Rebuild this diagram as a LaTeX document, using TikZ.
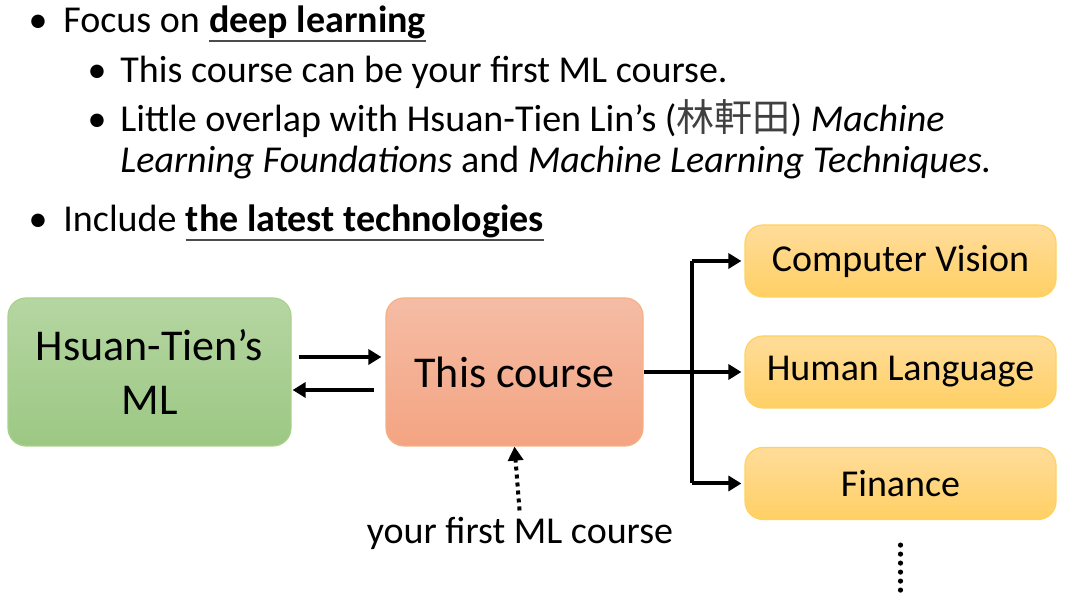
\documentclass[tikz,border=0pt]{standalone}
\usepackage{fontspec}
\setmainfont{Carlito}
\newfontfamily\cjk{Noto Sans CJK TC}
\usetikzlibrary{arrows.meta,positioning}

\definecolor{grtop}{HTML}{B5D6A2}
\definecolor{grbot}{HTML}{9CC883}
\definecolor{grline}{HTML}{A9D18E}
\definecolor{ortop}{HTML}{F5BCA5}
\definecolor{orbot}{HTML}{F4A482}
\definecolor{orline}{HTML}{F4B183}
\definecolor{yetop}{HTML}{FFDC9A}
\definecolor{yebot}{HTML}{FFD064}
\definecolor{yeline}{HTML}{FFD25E}

\begin{document}
\begin{tikzpicture}[x=0.5pt, y=-0.5pt,
  txt/.style={anchor=base west, inner sep=0pt, font=\fontsize{19}{23}\selectfont},
  bul/.style={anchor=base, inner sep=0pt, font=\fontsize{19}{23}\selectfont},
  ul/.style={black!70, line width=1pt},
  box/.style={rounded corners=9pt, inner sep=0pt, align=center, line width=0.6pt},
  big/.style={box, minimum height=74pt, font=\fontsize{22}{27}\selectfont},
  app/.style={box, minimum width=155.5pt, minimum height=36pt, draw=yeline,
    top color=yetop, bottom color=yebot, font=\fontsize{19}{23}\selectfont},
  arr/.style={line width=2pt, -{Triangle[length=6.5pt,width=7.5pt]}},
  dotarr/.style={line width=2pt, dash pattern=on 2pt off 2pt,
    -{Triangle[length=7pt,width=7.5pt]}}
]
\useasboundingbox (0,0) rectangle (1080,613);

% bullet list
\node[bul] (b1) at (38,33) {•};
\node[txt] (focus) at (63,33) {Focus on};
\node[txt, font=\fontsize{19}{23}\selectfont\bfseries] (deep) at ([xshift=4.3pt]focus.base east) {deep learning};
\draw[ul] ([yshift=-0.5pt]deep.south west) -- ([yshift=-0.5pt]deep.south east);

\node[bul] (b2) at (97,83) {•};
\node[txt] (sub1) at (120,83) {This course can be your first ML course.};
\node[bul] (b3) at (97,132) {•};
\node[txt] (sub2) at (120,132) {Little overlap with Hsuan-Tien Lin’s ({\cjk\color{black!75}林軒田}) \textit{Machine}};
\node[txt] (sub2b) at (120,173) {\textit{Learning Foundations} and \textit{Machine Learning Techniques.}};

\node[bul] (b4) at (38,232) {•};
\node[txt] (incl) at (63,232) {Include};
\node[txt, font=\fontsize{19}{23}\selectfont\bfseries] (latest) at ([xshift=4.3pt]incl.base east) {the latest technologies};
\draw[ul] ([yshift=-0.5pt]latest.south west) -- ([yshift=-0.5pt]latest.south east);

% boxes
\node[big, minimum width=141.5pt, draw=grline, top color=grtop, bottom color=grbot] (hsuan) at (149.5,372) {Hsuan-Tien’s\\ML};
\node[big, minimum width=128.5pt, draw=orline, top color=ortop, bottom color=orbot] (course) at (514.5,372) {This course};
\foreach \n/\t/\y in {cv/Computer Vision/261, hl/Human Language/372, fin/Finance/483.5}
  \node[app] (\n) at (900.5,\y) {\t};
\node[txt, anchor=center] (first) at (520,533) {your first ML course};

% connectors
\draw[arr, shorten <=3.5pt, shorten >=2pt] ([yshift=7.5pt]hsuan.east) -- ([yshift=7.5pt]course.west);
\draw[arr, shorten <=5.5pt, shorten >=0.5pt] ([yshift=-9pt]course.west) -- ([yshift=-9pt]hsuan.east);
\draw[line width=2pt] (course.east) -- ++(48,0) coordinate (split);
\draw[line width=2pt] (split |- cv.west) -- (split |- fin.west);
\foreach \n in {cv,hl,fin}
  \draw[arr, shorten >=1.5pt] (split |- \n.west) -- (\n.west);
\draw[dotarr, shorten <=3pt] (first.north) -- (course.south);
\draw[line width=2.6pt, line cap=round, dash pattern=on 0pt off 4.5pt] ([yshift=-12.5pt]fin.south) -- ++(0,47);
\end{tikzpicture}
\end{document}
